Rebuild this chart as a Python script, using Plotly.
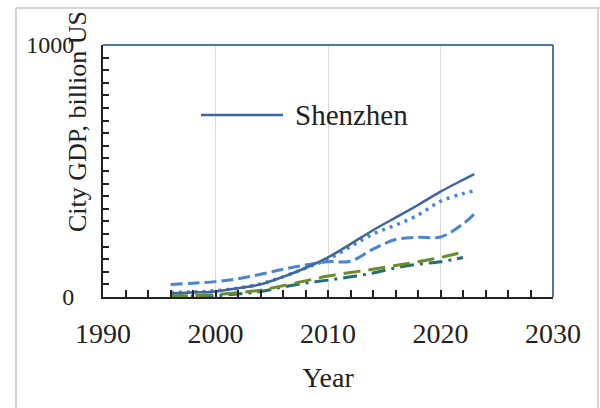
import plotly.graph_objects as go

# ---- data ----
years_blue = [1996, 1998, 2000, 2002, 2004, 2006, 2008, 2010, 2012, 2014, 2016, 2017, 2018, 2020, 2022, 2023]
shenzhen = [15, 18, 22, 35, 50, 80, 115, 157, 210, 265, 315, 340, 365, 418, 465, 488]

years_dot = [1996, 1998, 2000, 2002, 2004, 2006, 2008, 2010, 2012, 2014, 2016, 2018, 2020, 2022, 2023]
city_dot = [18, 20, 25, 35, 52, 80, 115, 150, 200, 250, 285, 325, 380, 410, 422]

years_dash = [1996, 1998, 2000, 2002, 2004, 2006, 2008, 2010, 2012, 2014, 2016, 2018, 2020, 2022, 2023]
city_dash = [50, 55, 61, 72, 90, 110, 127, 140, 142, 190, 228, 237, 238, 290, 329]

years_green = [1996, 1998, 2000, 2002, 2004, 2006, 2008, 2010, 2012, 2014, 2016, 2018, 2020, 2022]
city_green = [3, 6, 10, 17, 27, 45, 64, 83, 97, 110, 125, 140, 157, 178]

years_teal = [1996, 1998, 2000, 2002, 2004, 2006, 2008, 2010, 2012, 2014, 2016, 2018, 2020, 2022]
city_teal = [5, 4, 5, 12, 22, 40, 55, 67, 80, 95, 115, 130, 140, 157]

x_ticks = [1990, 2000, 2010, 2020, 2030]
y_ticks = [0, 1000]
legend_label = "Shenzhen"

C_SOLID = "#3D679E"
C_BLUE = "#4A86CF"
C_GREEN = "#6F8A2C"
C_TEAL = "#236C78"
FONT = "Liberation Serif"

fig = go.Figure()
fig.add_trace(go.Scatter(x=years_teal, y=city_teal, mode="lines", showlegend=False,
                         line=dict(color=C_TEAL, width=3, dash="14px,6px,3px,6px", shape="spline")))
fig.add_trace(go.Scatter(x=years_green, y=city_green, mode="lines", showlegend=False,
                         line=dict(color=C_GREEN, width=3, dash="17px,8px", shape="spline")))
fig.add_trace(go.Scatter(x=years_dash, y=city_dash, mode="lines", showlegend=False,
                         line=dict(color=C_BLUE, width=3, dash="12px,5px", shape="spline")))
fig.add_trace(go.Scatter(x=years_dot, y=city_dot, mode="lines", showlegend=False,
                         line=dict(color=C_BLUE, width=3.5, dash="3px,5px", shape="spline")))
fig.add_trace(go.Scatter(x=years_blue, y=shenzhen, mode="lines", name=legend_label, showlegend=False,
                         line=dict(color=C_SOLID, width=2.5, shape="spline")))

# pixel -> paper helpers (plot area: x 103..553, y 45..297)
def px(xp):
    return (xp - 103) / 450.0

def py(yp):
    return (297 - yp) / 252.0

shapes = [
    # outer grey frame of the cropped figure
    dict(type="line", xref="paper", yref="paper", x0=px(16), x1=px(16), y0=py(8), y1=py(420),
         line=dict(color="#D4D4D4", width=2)),
    dict(type="line", xref="paper", yref="paper", x0=px(16), x1=px(610), y0=py(8), y1=py(8),
         line=dict(color="#D4D4D4", width=2)),
    dict(type="line", xref="paper", yref="paper", x0=px(598), x1=px(598), y0=py(8), y1=py(420),
         line=dict(color="#D4D4D4", width=2)),
    # blue top / right plot border
    dict(type="line", xref="paper", yref="paper", x0=0, x1=1, y0=1, y1=1,
         line=dict(color="#4F74A8", width=2)),
    dict(type="line", xref="paper", yref="paper", x0=1, x1=1, y0=0, y1=1,
         line=dict(color="#4F74A8", width=2)),
    # legend sample line
    dict(type="line", xref="paper", yref="paper", x0=px(201), x1=px(283), y0=py(115), y1=py(115),
         line=dict(color=C_SOLID, width=2.5)),
]

annotations = [
    dict(text=legend_label, xref="paper", yref="paper", x=px(293), y=py(115),
         xanchor="left", yanchor="middle", showarrow=False,
         font=dict(family=FONT, size=29, color="#222222")),
    dict(text="City GDP, billion US", xref="paper", yref="paper", x=px(77), y=py(122),
         xanchor="center", yanchor="middle", textangle=-90, showarrow=False,
         font=dict(family=FONT, size=26, color="#222222")),
]

fig.update_layout(
    width=600, height=408,
    margin=dict(l=103, r=47, t=45, b=111),
    paper_bgcolor="white", plot_bgcolor="white",
    showlegend=False,
    shapes=shapes, annotations=annotations,
    font=dict(family=FONT, color="#222222"),
)

fig.update_xaxes(
    range=[1990, 2030], tickvals=x_ticks, ticktext=[str(v) for v in x_ticks],
    showgrid=True, gridcolor="#D9D9D9", gridwidth=1,
    showline=True, linecolor="#222222", linewidth=2,
    ticks="inside", ticklen=7, tickcolor="#222222", tickwidth=1.5,
    minor=dict(dtick=2, ticks="inside", ticklen=7, tickcolor="#222222", tickwidth=1.5, showgrid=False),
    tickfont=dict(family=FONT, size=28, color="#222222"),
    ticklabelstandoff=10,
    title=dict(text="Year", font=dict(family=FONT, size=28, color="#222222"), standoff=20),
    zeroline=False, fixedrange=True,
)
fig.update_yaxes(
    range=[0, 1000], tickvals=y_ticks, ticktext=[str(v) for v in y_ticks],
    showgrid=False,
    showline=True, linecolor="#222222", linewidth=2,
    ticks="inside", ticklen=6, tickcolor="#222222", tickwidth=1.5,
    minor=dict(dtick=50, ticks="inside", ticklen=6, tickcolor="#222222", tickwidth=1.5, showgrid=False),
    tickfont=dict(family=FONT, size=24, color="#222222"),
    ticklabelstandoff=22,
    zeroline=False, fixedrange=True,
)

fig.write_html(
    "out.html",
    config={"displayModeBar": False},
    post_script="document.body.style.margin='0';document.body.style.overflow='hidden';",
)
